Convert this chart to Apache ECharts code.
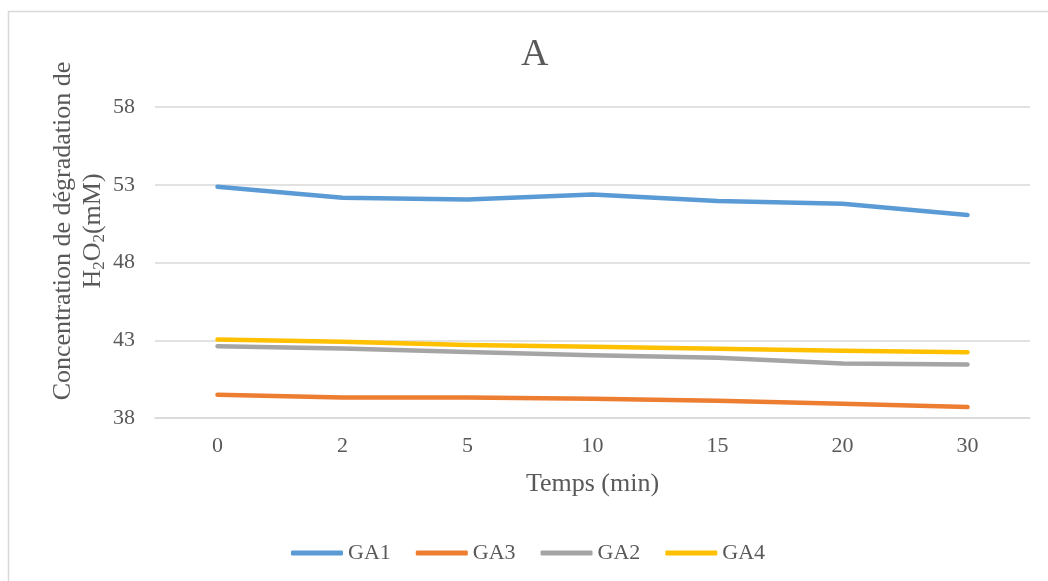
<!DOCTYPE html>
<html>
<head>
<meta charset="utf-8">
<script src="https://cdn.jsdelivr.net/npm/echarts@6/dist/echarts.min.js"></script>
<style>
  html, body { margin: 0; padding: 0; background: #ffffff; }
  #chart { width: 1048px; height: 581px; }
</style>
</head>
<body>
<div id="chart"></div>
<script>
// Temps (min)
const categories = ['0', '2', '5', '10', '15', '20', '30'];

// Concentration de dégradation de H2O2 (mM)
const GA1 = [52.87, 52.16, 52.05, 52.38, 51.95, 51.78, 51.05];
const GA3 = [39.49, 39.32, 39.32, 39.24, 39.11, 38.92, 38.70];
const GA2 = [42.62, 42.47, 42.25, 42.04, 41.87, 41.50, 41.44];
const GA4 = [43.05, 42.90, 42.70, 42.58, 42.45, 42.32, 42.23];

const yTicks = { min: 38, max: 58, step: 5 };

const FONT = '"Liberation Serif", "Times New Roman", serif';
const TEXT = '#595959';
const GRID = '#d9d9d9';

function lineSeries(name, data, color) {
  return {
    name: name,
    type: 'line',
    data: data,
    symbol: 'none',
    smooth: false,
    lineStyle: { color: color, width: 4.5, cap: 'round', join: 'round' },
    itemStyle: { color: color },
    emphasis: { disabled: true }
  };
}

const chart = echarts.init(document.getElementById('chart'), null, { renderer: 'canvas' });

chart.setOption({
  backgroundColor: '#ffffff',
  animation: false,
  textStyle: { fontFamily: FONT },
  title: {
    text: 'A',
    left: 516,
    top: 31,
    textStyle: { fontFamily: FONT, fontSize: 38, fontWeight: 'normal', color: TEXT }
  },
  grid: { left: 155, right: 18, top: 107, bottom: 163, containLabel: false },
  xAxis: {
    type: 'category',
    data: categories,
    boundaryGap: true,
    name: 'Temps (min)',
    nameLocation: 'middle',
    nameGap: 53,
    nameTextStyle: { fontFamily: FONT, fontSize: 26, color: TEXT },
    axisLine: { show: true, lineStyle: { color: GRID, width: 1.5 } },
    axisTick: { show: false },
    axisLabel: { fontFamily: FONT, fontSize: 22, color: TEXT, margin: 17 }
  },
  yAxis: {
    type: 'value',
    min: yTicks.min,
    max: yTicks.max,
    interval: yTicks.step,
    axisLine: { show: false },
    axisTick: { show: false },
    splitLine: { show: true, lineStyle: { color: GRID, width: 1.5 } },
    axisLabel: { fontFamily: FONT, fontSize: 22, color: TEXT, margin: 20 }
  },
  legend: {
    bottom: 12,
    left: 286,
    itemWidth: 52,
    itemHeight: 5,
    itemGap: 25,
    icon: 'roundRect',
    textStyle: { fontFamily: FONT, fontSize: 22, color: TEXT },
    data: ['GA1', 'GA3', 'GA2', 'GA4']
  },
  graphic: [
    {
      type: 'rect',
      silent: true,
      shape: { x: 8.5, y: 11.5, width: 1100, height: 640 },
      style: { fill: null, stroke: GRID, lineWidth: 1.5 },
      z: -10
    },
    {
      type: 'text',
      x: 78,
      y: 231,
      rotation: Math.PI / 2,
      style: {
        text: 'Concentration de dégradation de\n{m|H}{s|2}{m|O}{s|2}{m|(mM)}',
        align: 'center',
        verticalAlign: 'middle',
        fontFamily: FONT,
        fontSize: 26,
        lineHeight: 30,
        fill: TEXT,
        rich: {
          m: { fontFamily: FONT, fontSize: 26, lineHeight: 30, fill: TEXT },
          s: { fontFamily: FONT, fontSize: 17, lineHeight: 17, verticalAlign: 'bottom', fill: TEXT }
        }
      }
    }
  ],
  series: [
    lineSeries('GA1', GA1, '#5b9bd5'),
    lineSeries('GA3', GA3, '#ed7d31'),
    lineSeries('GA2', GA2, '#a5a5a5'),
    lineSeries('GA4', GA4, '#ffc000')
  ]
});
</script>
</body>
</html>
